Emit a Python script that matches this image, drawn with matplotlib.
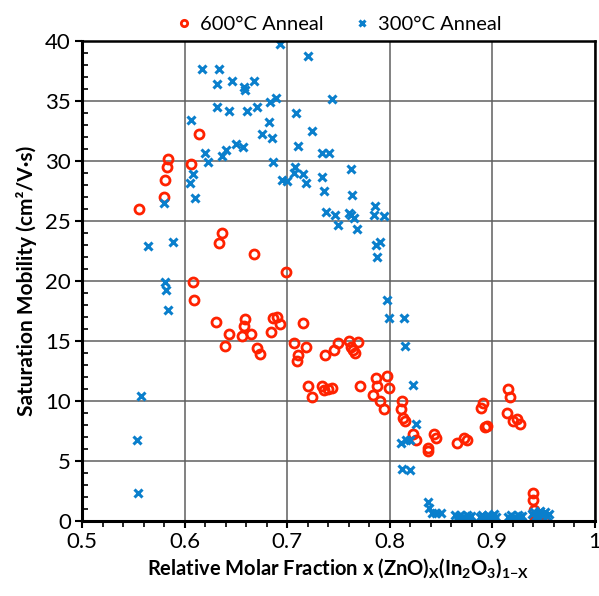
import matplotlib
matplotlib.use('Agg')
import matplotlib.pyplot as plt
from matplotlib.ticker import MultipleLocator

plt.rcParams['font.family'] = ['Lato', 'DejaVu Sans']
plt.rcParams['mathtext.fontset'] = 'custom'
plt.rcParams['mathtext.rm'] = 'Lato'
plt.rcParams['mathtext.bf'] = 'Lato:bold'

# 600°C anneal (open red circles)
x600 = [0.556, 0.580, 0.581, 0.583, 0.584, 0.606, 0.614, 0.608, 0.609, 0.636,
        0.634, 0.668, 0.699, 0.631, 0.643, 0.639, 0.659, 0.658, 0.656, 0.665,
        0.671, 0.674, 0.686, 0.690, 0.693, 0.684, 0.715, 0.707, 0.718, 0.711,
        0.710, 0.720, 0.724, 0.734, 0.736, 0.740, 0.744, 0.737, 0.746, 0.750,
        0.760, 0.762, 0.764, 0.766, 0.769, 0.771, 0.787, 0.797, 0.788, 0.799,
        0.784, 0.791, 0.794, 0.812, 0.811, 0.813, 0.815, 0.823, 0.826, 0.837,
        0.837, 0.843, 0.845, 0.866, 0.872, 0.875, 0.891, 0.889, 0.895, 0.893,
        0.915, 0.917, 0.914, 0.920, 0.924, 0.927, 0.940, 0.940, 0.941, 0.942,
        0.944, 0.947, 0.950, 0.945, 0.948]
y600 = [26.0, 27.0, 28.4, 29.5, 30.1, 29.7, 32.2, 19.9, 18.4, 24.0,
        23.1, 22.2, 20.7, 16.6, 15.6, 14.6, 16.8, 16.2, 15.4, 15.6,
        14.4, 13.9, 16.9, 17.0, 16.4, 15.7, 16.5, 14.8, 14.5, 13.8,
        13.3, 11.2, 10.3, 11.2, 10.9, 11.0, 11.1, 13.8, 14.2, 14.8,
        15.0, 14.5, 14.2, 14.0, 14.9, 11.2, 11.9, 12.1, 11.2, 11.1,
        10.5, 10.0, 9.3, 10.0, 9.3, 8.6, 8.3, 7.2, 6.7, 6.1,
        5.8, 7.2, 6.9, 6.5, 6.9, 6.7, 9.8, 9.4, 7.9, 7.8,
        11.0, 10.3, 9.0, 8.3, 8.5, 8.1, 2.3, 1.7, 0.9, 0.1,
        0.05, 0.0, 0.05, 0.3, 0.2]

# 300°C anneal (blue crosses)
x300 = [0.617, 0.606, 0.620, 0.623, 0.608, 0.605, 0.610, 0.580, 0.564, 0.589,
        0.581, 0.582, 0.584, 0.557, 0.554, 0.555, 0.693, 0.720, 0.634, 0.632,
        0.646, 0.658, 0.659, 0.668, 0.632, 0.643, 0.661, 0.671, 0.683, 0.689,
        0.744, 0.709, 0.682, 0.724, 0.675, 0.685, 0.650, 0.657, 0.711, 0.636,
        0.640, 0.686, 0.734, 0.741, 0.708, 0.707, 0.715, 0.718, 0.695, 0.700,
        0.734, 0.762, 0.736, 0.763, 0.738, 0.747, 0.750, 0.760, 0.762, 0.765,
        0.768, 0.786, 0.785, 0.794, 0.787, 0.791, 0.788, 0.797, 0.799, 0.814,
        0.815, 0.823, 0.826, 0.811, 0.816, 0.820, 0.812, 0.820, 0.837, 0.838,
        0.841, 0.845, 0.850,
        0.864, 0.866, 0.867, 0.869, 0.871, 0.873, 0.875, 0.877, 0.879,
        0.888, 0.890, 0.892, 0.894, 0.896, 0.898, 0.900, 0.902, 0.904,
        0.915, 0.918, 0.920, 0.922, 0.925, 0.927, 0.929,
        0.939, 0.941, 0.943, 0.944, 0.945, 0.947, 0.949, 0.951, 0.953, 0.955]
y300 = [37.6, 33.4, 30.6, 29.9, 28.9, 28.1, 26.9, 26.5, 22.9, 23.2,
        19.9, 19.2, 17.6, 10.4, 6.7, 2.3, 39.7, 38.7, 37.6, 36.4,
        36.6, 36.1, 35.9, 36.6, 34.5, 34.1, 34.1, 34.5, 34.9, 35.2,
        35.1, 34.0, 33.2, 32.5, 32.2, 31.9, 31.4, 31.1, 31.2, 30.4,
        30.9, 29.9, 30.6, 30.6, 29.5, 29.0, 28.9, 28.1, 28.4, 28.3,
        28.6, 29.3, 27.5, 27.1, 25.7, 25.5, 24.6, 25.6, 25.5, 25.2,
        24.3, 26.2, 25.5, 25.4, 23.0, 23.2, 22.0, 18.4, 16.9, 16.9,
        14.6, 11.3, 8.1, 6.5, 6.7, 6.7, 4.3, 4.2, 1.6, 1.05,
        0.64, 0.69, 0.64,
        0.45, 0.2, 0.3, 0.5, 0.35, 0.25, 0.45, 0.3, 0.4,
        0.3, 0.45, 0.2, 0.35, 0.5, 0.3, 0.4, 0.55, 0.35,
        0.3, 0.45, 0.2, 0.35, 0.5, 0.3, 0.4,
        0.55, 0.75, 0.4, 0.3, 0.65, 0.8, 0.5, 0.7, 0.4, 0.6]

fig = plt.figure(figsize=(5.99, 5.96), dpi=100)
ax = fig.add_axes([0.137, 0.126, 0.856, 0.806])

ax.plot(x600, y600, 'o', linestyle='none', markersize=6.5, markerfacecolor='none',
        markeredgecolor='#FF2200', markeredgewidth=2, label='600°C Anneal')
ax.plot(x300, y300, 'x', linestyle='none', markersize=5.5,
        color='#0A7FCC', markeredgewidth=2.2, label='300°C Anneal')

ax.set_xlim(0.5, 1.0)
ax.set_ylim(0, 40)
ax.xaxis.set_major_locator(MultipleLocator(0.1))
ax.xaxis.set_minor_locator(MultipleLocator(0.02))
ax.yaxis.set_major_locator(MultipleLocator(5))
ax.yaxis.set_minor_locator(MultipleLocator(1))
ax.set_xticks([0.5, 0.6, 0.7, 0.8, 0.9, 1.0])
ax.set_xticklabels(['0.5', '0.6', '0.7', '0.8', '0.9', '1'])

ax.grid(True, which='major', color='#5f5f5f', linewidth=1.1)
ax.set_axisbelow(True)
ax.tick_params(which='major', direction='out', length=5, width=1.5, labelsize=16, pad=3)
ax.tick_params(which='minor', direction='out', length=4, width=1.2)
ax.tick_params(axis='y', which='minor', direction='in')
for side in ['left', 'bottom']:
    ax.spines[side].set_linewidth(2.2)
for side in ['top', 'right']:
    ax.spines[side].set_linewidth(1.8)

ax.set_ylabel('Saturation Mobility (cm²/V·s)', fontsize=15, fontweight='bold', labelpad=6)
ax.set_xlabel(r'Relative Molar Fraction x (ZnO)$_\mathbf{X}$(In$_\mathbf{2}$O$_\mathbf{3}$)$_\mathbf{1{-}X}$',
              fontsize=14.5, fontweight='bold', labelpad=3)

ax.legend(loc='lower center', bbox_to_anchor=(0.5, 0.995), ncol=2, frameon=False,
          fontsize=14.5, handlelength=0.8, handletextpad=0.4, columnspacing=1.5,
          borderaxespad=0.1, markerscale=0.7)

fig.savefig('out.png', dpi=100)
